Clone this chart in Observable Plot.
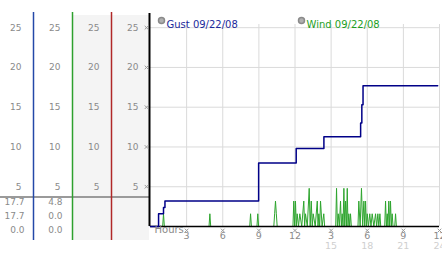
<!DOCTYPE html>
<html>
<head>
<meta charset="utf-8">
<script src="https://cdn.jsdelivr.net/npm/d3@7"></script>
<script src="https://cdn.jsdelivr.net/npm/@observablehq/plot@0.6"></script>
<style>
  html, body { margin: 0; padding: 0; background: #ffffff; }
  #wrap { position: relative; width: 442px; height: 253px; overflow: hidden; background: #ffffff; }
  #left { position: absolute; left: 0; top: 0; }
  #main { position: absolute; left: 140px; top: 0; }
</style>
</head>
<body>
<div id="wrap"><div id="left"></div><div id="main"></div></div>
<script>
// ---- data ----
const yTicks = [5, 10, 15, 20, 25];
const xTicks = [3, 6, 9, 12, 15, 18, 21, 24];
const xTickLabels = ["3", "6", "9", "12", "3", "6", "9", "12"];
const xTicks2 = [15, 18, 21, 24];
const xTickLabels2 = ["15", "18", "21", "24"];

const legendLabels = ["Gust 09/22/08", "Wind 09/22/08"];
const gustStats = ["17.7", "17.7", "0.0"];
const windStats = ["4.8", "0.0", "0.0"];

const gustHours  = [0, 0.67, 1.08, 1.2, 8.98, 12.1, 14.4, 17.45, 17.55, 17.65, 23.85];
const gustValues = [0, 1.6, 2.4, 3.2, 8.0, 9.8, 11.3, 13.0, 15.3, 17.7, 17.7];

const windHours = [
  0, 1.01, 1.08, 1.15, 4.86, 4.93, 5.0, 8.24, 8.31, 8.38, 8.84, 8.91, 8.98,
  10.24, 10.31, 10.38, 10.45, 10.52, 11.83, 11.90, 11.97, 12.04, 12.11, 12.18, 12.29,
  12.40, 12.56, 12.73, 12.80, 12.87, 13.02, 13.18, 13.26, 13.35, 13.43, 13.51, 13.68,
  13.85, 13.91, 13.98, 14.05, 14.12, 14.25, 14.39, 14.46, 15.38, 15.45, 15.52, 15.59,
  15.68, 15.78, 15.85, 15.92, 15.99, 16.06, 16.13, 16.20, 16.27, 16.34, 16.40, 16.47,
  16.54, 16.61, 16.68, 17.23, 17.30, 17.41, 17.52, 17.62, 17.72, 17.79, 17.86, 17.93,
  18.00, 18.10, 18.21, 18.31, 18.41, 18.55, 18.69, 18.78, 18.88, 18.96, 19.05, 19.12,
  19.45, 19.52, 19.59, 19.66, 19.72, 19.79, 19.86, 19.93, 20.00, 20.07, 20.14, 20.28,
  20.35, 20.42, 23.85
];
const windSpeeds = [
  0, 0, 1.6, 0, 0, 1.6, 0, 0, 1.6, 0, 0, 1.6, 0,
  0, 1.6, 3.2, 1.6, 0, 0, 3.2, 0, 3.2, 0, 1.6, 0,
  1.6, 0, 3.2, 0, 1.6, 0, 4.8, 0, 3.2, 0, 1.6, 0,
  3.2, 0, 1.6, 0, 3.2, 0, 1.6, 0, 0, 4.8, 0, 1.6,
  0, 3.2, 0, 1.6, 0, 4.8, 0, 3.2, 0, 4.8, 0, 1.6,
  0, 1.6, 0, 0, 3.2, 0, 4.8, 0, 3.2, 0, 3.2, 0,
  1.6, 0, 1.6, 0, 1.6, 0, 1.6, 0, 1.6, 0, 1.6, 0,
  0, 3.2, 0, 1.6, 0, 3.2, 0, 3.2, 0, 1.6, 0, 0,
  1.6, 0, 0
];

// ---- tables built from the arrays ----
const gust = gustHours.map((h, i) => ({hour: h, value: gustValues[i]}));
const wind = windHours.map((h, i) => ({hour: h, value: windSpeeds[i]}));
const xLab = xTicks.map((t, i) => ({t, label: xTickLabels[i]}));
const xLab2 = xTicks2.map((t, i) => ({t, label: xTickLabels2[i]}));

// ---- styling / layout ----
const FONT = "'DejaVu Sans', Verdana, sans-serif";
const GRAY = "#8a8a8a";
const GUST = "#000088";
const WIND = "#2ea52e";
const H = 253, MT = 24, MB = 27;
const yDomain = [0, 25.4];
const colRight = [21, 60, 99, 138];
const statRight = [24, 62];
const colLines = [{x: 33, c: "#2448a8"}, {x: 72, c: "#2ea02e"}, {x: 111, c: "#b02828"}];

// Left table panel
const leftMarks = [
  Plot.rect([0], {x1: 72, x2: 149, fill: "#f4f4f4", insetTop: -9, insetBottom: -14}),
  Plot.ruleY([0], {dy: -29.5, stroke: "#9a9a9a", strokeWidth: 2}),
  ...colLines.map(l => Plot.ruleX([l.x], {stroke: l.c, strokeWidth: 1.5, insetTop: -12, insetBottom: -14})),
  ...colRight.map(cx => Plot.text(yTicks, {x: () => cx, y: d => d, text: d => String(d), textAnchor: "end", fill: GRAY, fontSize: 9})),
  ...gustStats.map((s, i) => Plot.text([s], {x: () => statRight[0], frameAnchor: "bottom", dy: -22 + 14 * i, text: d => d, textAnchor: "end", fill: GRAY, fontSize: 9})),
  ...windStats.map((s, i) => Plot.text([s], {x: () => statRight[1], frameAnchor: "bottom", dy: -22 + 14 * i, text: d => d, textAnchor: "end", fill: GRAY, fontSize: 9}))
];

const left = Plot.plot({
  width: 150, height: H, marginTop: MT, marginBottom: MB, marginLeft: 0, marginRight: 0,
  x: {type: "identity", axis: null},
  y: {domain: yDomain, axis: null},
  style: {background: "transparent", fontFamily: FONT, fontSize: "9px", overflow: "visible"},
  marks: leftMarks
});
document.getElementById("left").appendChild(left);

// Main chart
const main = Plot.plot({
  width: 302, height: H, marginTop: MT, marginBottom: MB, marginLeft: 10, marginRight: 3,
  x: {domain: [0, 24], axis: null},
  y: {domain: yDomain, axis: null},
  style: {background: "transparent", fontFamily: FONT, fontSize: "9px", overflow: "visible"},
  marks: [
    Plot.ruleY(yTicks, {stroke: "#dadada", strokeWidth: 1}),
    Plot.ruleX(xTicks, {stroke: "#dadada", strokeWidth: 1}),
    Plot.line(wind, {x: "hour", y: "value", stroke: WIND, strokeWidth: 1}),
    Plot.ruleY([0], {stroke: "#000", strokeWidth: 1.5}),
    Plot.line(gust, {x: "hour", y: "value", curve: "step-after", stroke: GUST, strokeWidth: 1.5}),
    Plot.ruleX([0], {stroke: "#000", strokeWidth: 2, dx: -1, insetTop: -11}),
    Plot.dot(yTicks, {y: d => d, frameAnchor: "left", dx: -4, symbol: "times", r: 1.8, stroke: "#999", strokeWidth: 1}),
    Plot.dot(xLab, {x: "t", frameAnchor: "bottom", dy: 4, symbol: "times", r: 1.8, stroke: "#999", strokeWidth: 1}),
    Plot.text(xLab, {x: "t", frameAnchor: "bottom", dy: 12.5, text: "label", fill: GRAY, fontSize: 9.5}),
    Plot.text(xLab2, {x: "t", frameAnchor: "bottom", dy: 22, text: "label", fill: "#cfcfcf", fontSize: 9.5}),
    Plot.text(["Hours"], {frameAnchor: "bottom-left", dx: 4, dy: 6.5, text: d => d, textAnchor: "start", fill: GRAY, fontSize: 10}),
    Plot.dot([0], {frameAnchor: "top-left", dx: 11, dy: -4, r: 3, fill: "#b0b0b0", stroke: "#8a8a8a"}),
    Plot.text([legendLabels[0]], {frameAnchor: "top-left", dx: 16, dy: -4, text: d => d, textAnchor: "start", fill: "#1c2a9c", fontSize: 10}),
    Plot.dot([0], {frameAnchor: "top-left", dx: 151, dy: -4, r: 3, fill: "#b0b0b0", stroke: "#8a8a8a"}),
    Plot.text([legendLabels[1]], {frameAnchor: "top-left", dx: 156, dy: -4, text: d => d, textAnchor: "start", fill: "#1e9e1e", fontSize: 10})
  ]
});
document.getElementById("main").appendChild(main);
</script>
</body>
</html>
